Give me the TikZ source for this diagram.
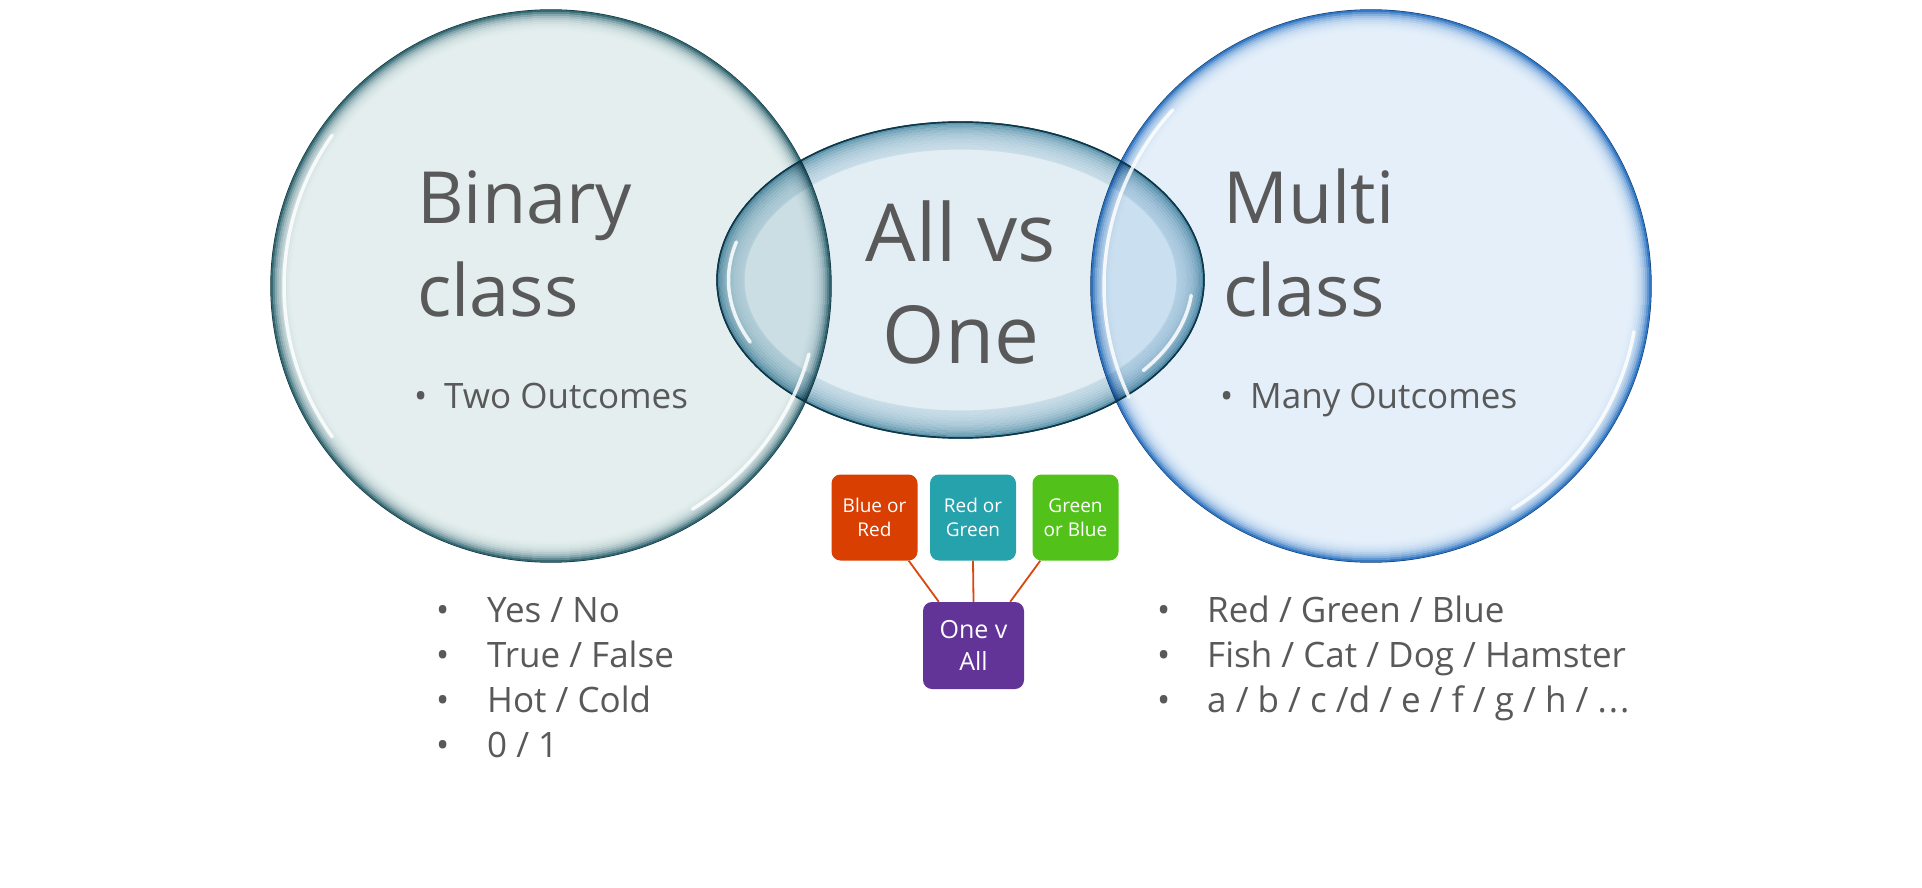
\documentclass[tikz,border=0pt]{standalone}
\usepackage{fontspec}
\setmainfont{Open Sans}
\usetikzlibrary{calc,shapes.geometric}

\definecolor{txtgray}{HTML}{595959}
\definecolor{lfill}{HTML}{E4EEEE}
\definecolor{lrim}{HTML}{1A5561}
\definecolor{rfill}{HTML}{E4EFFA}
\definecolor{rrim}{HTML}{1966BC}
\definecolor{mfill}{HTML}{E3EEF4}
\definecolor{mrim}{HTML}{1B6F8E}
\definecolor{boxorange}{HTML}{D83F00}
\definecolor{boxteal}{HTML}{25A2AC}
\definecolor{boxgreen}{HTML}{52C21A}
\definecolor{boxpurple}{HTML}{623497}
\definecolor{linkorange}{HTML}{D9480F}

% darkening band along the inside of a bubble: node, x radius, y radius, rim colour, fill colour
\newcommand\rimband[5]{%
  \foreach \d/\p in {1/88,3/66,5/47,7/33,9/23,11/15,13/10,15/6,17/3.5,19/1.5}
    \draw[line width=2.3pt, #4!\p!#5] (#1.center) ellipse [x radius=#2-\d, y radius=#3-\d];}
\newcommand\rimbandwide[5]{%
  \foreach \d/\p in {1.25/62,3.75/46,6.25/35,8.75/27,11.25/20,13.75/15,16.25/11,18.75/7,21.25/4.5,23.75/2.5,26.25/1}
    \draw[line width=2.5pt, #4!\p!#5] (#1.center) ellipse [x radius=#2-\d, y radius=#3-\d];}

% white gloss arc inside a bubble: node, x radius, y radius, start, end
\newcommand\glintarc[5]{%
  \draw[glint] ($(#1.center)+(#4:#2 and #3)$) arc[start angle=#4, end angle=#5, x radius=#2, y radius=#3];}

\tikzset{
  bubble/.style={ellipse, inner sep=0pt, outer sep=0pt, draw=#1, line width=1.4pt},
  glint/.style={white, line width=3.5pt, opacity=0.85, line cap=round},
  title/.style={text=txtgray, font=\fontsize{72}{93}\selectfont, inner sep=0pt},
  bigtitle/.style={text=txtgray, font=\fontsize{80}{102}\selectfont, inner sep=0pt},
  point/.style={text=txtgray, font=\fontsize{35}{45}\selectfont, inner sep=0pt, anchor=base west},
  tile/.style={rounded corners=9pt, minimum width=86pt, minimum height=86pt, inner sep=0pt,
    text=white, align=center, font=\fontsize{19}{24}\selectfont},
  link/.style={linkorange, line width=1.8pt}
}

\begin{document}
\begin{tikzpicture}[x=1pt,y=-1pt]
\useasboundingbox (0,0) rectangle (1922,888);
\fill[white] (0,0) rectangle (1922,888);

% the three bubbles
\node[bubble=lrim!55!black, fill=lfill, minimum width=560pt, minimum height=552pt] (binary) at (551,286) {};
\rimband{binary}{280}{276}{lrim}{lfill}
\node[bubble=rrim!55!black, fill=rfill, minimum width=560pt, minimum height=552pt] (multi) at (1371,286) {};
\rimband{multi}{280}{276}{rrim}{rfill}
\begin{scope}[blend mode=multiply]
\node[bubble=mrim!55!black, fill=mfill, minimum width=487pt, minimum height=316pt] (allone) at (960.5,280) {};
\rimbandwide{allone}{243.5}{158}{mrim}{mfill}
\end{scope}
\draw[line width=1.4pt, mrim!50!black] (allone.center) ellipse [x radius=243.5, y radius=158];

% gloss highlights
\glintarc{binary}{267}{263}{-145}{-215}
\glintarc{binary}{267}{263}{58}{15}
\glintarc{multi}{267}{263}{-138}{-205}
\glintarc{multi}{267}{263}{58}{10}
\glintarc{allone}{232}{147}{-165}{-205}
\glintarc{allone}{232}{147}{38}{6}

% titles
\node[title, anchor=base west] (bin1) at (417,223) {Binary};
\node[title, anchor=base west] (bin2) at (417,316) {class};
\node[title, anchor=base west] (mul1) at (1223,223) {Multi};
\node[title, anchor=base west] (mul2) at (1223,316) {class};
\node[bigtitle, anchor=base] (avo1) at (961,261) {All vs};
\node[bigtitle, anchor=base] (avo2) at (961,363) {One};

% bullet points inside the bubbles
\node[point] (twoout) at (414,408) {\makebox[30pt][l]{•}Two Outcomes};
\node[point] (manyout) at (1220,408) {\makebox[30pt][l]{•}Many Outcomes};

% examples below the bubbles
\node[point] (bl1) at (436,622) {\makebox[51pt][l]{•}Yes / No};
\node[point] (bl2) at (436,667) {\makebox[51pt][l]{•}True / False};
\node[point] (bl3) at (436,712) {\makebox[51pt][l]{•}Hot / Cold};
\node[point] (bl4) at (436,757) {\makebox[51pt][l]{•}0 / 1};
\node[point] (mr1) at (1157,622) {\makebox[50pt][l]{•}Red / Green / Blue};
\node[point] (mr2) at (1157,667) {\makebox[50pt][l]{•}Fish / Cat / Dog / Hamster};
\node[point] (mr3) at (1157,712) {\makebox[50pt][l]{•}a / b / c /d / e / f / g / h / .\hspace{2pt}.\hspace{2pt}.};

% one-versus-all tiles
\node[tile, fill=boxorange] (br) at (874.5,517.5) {Blue or\\Red};
\node[tile, fill=boxteal] (rg) at (973,517.5) {Red or\\Green};
\node[tile, fill=boxgreen] (gb) at (1075.5,517.5) {Green\\or Blue};
\node[tile, fill=boxpurple, minimum width=101pt, minimum height=87pt, font=\fontsize{25}{32}\selectfont] (ova) at (973.5,645.5) {One v\\All};

\draw[link] ($(br.south east)+(-9,0)$) -- ($(ova.north west)+(16,0)$);
\draw[link] (rg.south) -- (ova.north);
\draw[link] ($(gb.south west)+(8,0)$) -- ($(ova.north east)+(-14,0)$);
\end{tikzpicture}
\end{document}
